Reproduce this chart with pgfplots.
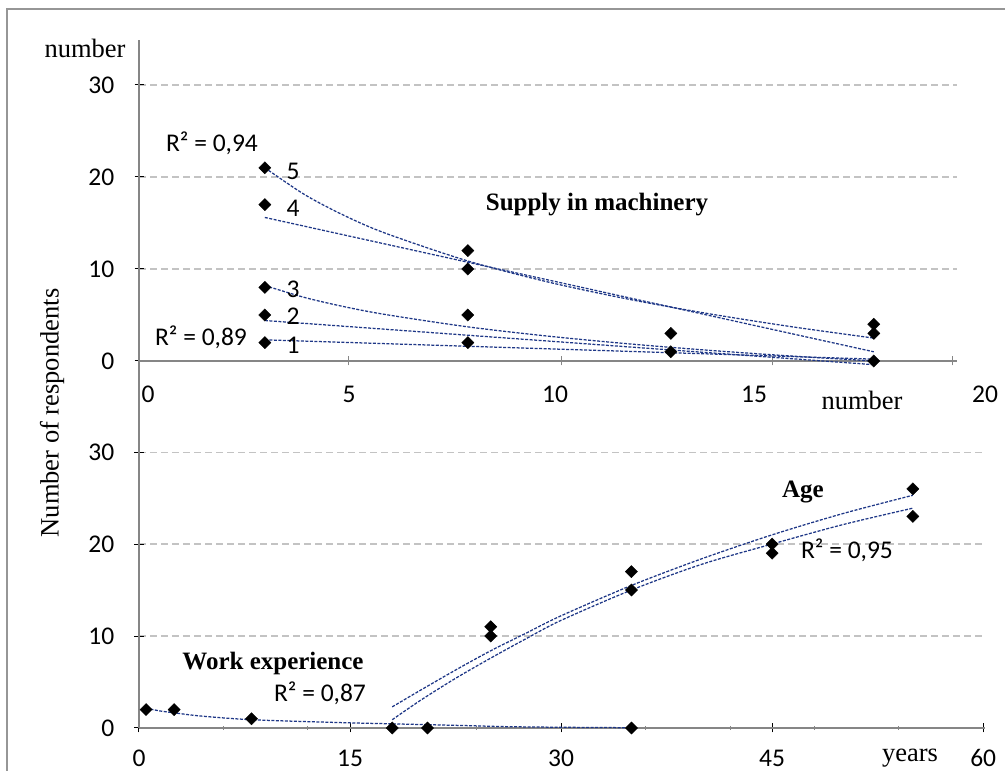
\documentclass[border=0pt]{standalone}
\usepackage{fontspec}
\setmainfont{Carlito}
\newfontfamily\timesf{Liberation Serif}
\usepackage{pgfplots}
\pgfplotsset{compat=1.18}
\definecolor{axgray}{RGB}{134,134,134}
\definecolor{gridgray}{RGB}{195,195,195}
\definecolor{trend}{RGB}{30,55,135}
\definecolor{framegray}{RGB}{150,150,150}
\pgfplotsset{
 mystyle/.style={
  scale only axis,
  axis lines=left,
  axis line style={draw=axgray, line width=1.6pt, -},
  tick align=center,
  major tick length=9pt,
  tick style={black, line width=1pt},
  ymajorgrids,
  grid style={gridgray, line width=1.1pt, dash pattern=on 7pt off 4pt},
  /pgf/number format/assume math mode=true,
  tick label style={font=\fontsize{25.5}{30}\selectfont},
  yticklabel style={inner sep=0pt, xshift=-20pt},
  ytick={0,10,20,30},
  clip=false,
 },
 pts/.style={only marks, mark=square*, mark size=4.3pt, mark options={rotate=45, fill=black, draw=black}, black},
 tl/.style={trend, line width=1.25pt, dash pattern=on 3pt off 1.5pt, no marks},
}
\newcommand\lab{\fontsize{25.5}{30}\selectfont}
\newcommand\tms{\timesf\fontsize{26.5}{30}\selectfont}
\newcommand\tmsb{\timesf\bfseries\fontsize{25}{30}\selectfont}
\begin{document}
\begin{tikzpicture}
\useasboundingbox (0pt,0pt) rectangle (1005pt,771pt);
\fill[white] (0pt,0pt) rectangle (1005pt,771pt);
\draw[framegray, line width=2pt] (7pt,0pt) -- (7pt,762pt) -- (1005pt,762pt);

% top: supply in machinery
\begin{axis}[mystyle, at={(139pt,410pt)}, anchor=south west,
  width=818pt, height=321pt,
  xmin=-0.1, xmax=20.05, ymin=0, ymax=34.89,
  xtick={5.07,10.31,15.5,19.94}, xticklabels={,,,},
  xtick style={axgray, line width=1pt}]
\addplot[tl, smooth] coordinates {(3,21)(4,18.03)(5,15.72)(6,13.84)(8,10.87)(10,8.56)(12,6.68)(14,5.09)(16,3.71)(18,2.49)};
\addplot[tl] coordinates {(3,15.6)(18,1.0)};
\addplot[tl, smooth] coordinates {(3,8.2)(4,6.88)(5,5.86)(6,5.03)(8,3.71)(10,2.69)(12,1.85)(14,1.14)(16,0.53)(18,0)};
\addplot[tl] coordinates {(3,4.4)(18,-0.4)};
\addplot[tl] coordinates {(3,2.3)(18,0.2)};
\addplot[pts] coordinates {(3,21)(3,17)(3,8)(3,5)(3,2)(8,12)(8,10)(8,5)(8,2)(13,3)(13,1)(18,4)(18,3)(18,0)};
\end{axis}

% bottom: age and work experience
\begin{axis}[mystyle, at={(139pt,43pt)}, anchor=south west,
  width=846pt, height=367pt,
  xmin=0, xmax=60.13, ymin=0, ymax=39.9,
  xtick={0,15,30,45,60},
  xticklabel style={inner sep=0pt, yshift=-17pt},
  minor xtick={6,12,18,24,36,42,48,54},
  minor tick length=4pt, minor tick style={axgray, line width=0.8pt}]
\addplot[tl, smooth] coordinates {(0.5,2.15)(1.5,1.85)(2.5,1.65)(4.4,1.3)(8,0.9)(14,0.6)(18,0.45)(23,0.27)(26,0.15)(30,0.08)(35,0.03)};
\addplot[tl, smooth] coordinates {(18,2.3)(20,4.1)(22.5,6.3)(25,8.4)(27.5,10.3)(30,12.2)(35,15.5)(40,18.4)(45,21.0)(50,23.3)(55,25.3)};
\addplot[tl, smooth] coordinates {(18,0.9)(20,3.0)(22.5,5.4)(25,7.6)(27.5,9.7)(30,11.7)(35,15.0)(40,17.8)(45,20.0)(50,22.1)(55,23.9)};
\addplot[pts] coordinates {(0.5,2)(2.5,2)(8,1)(18,0)(20.5,0)(35,0)(25,11)(25,10)(35,17)(35,15)(45,20)(45,19)(55,26)(55,23)};
\end{axis}

% texts
\node[font=\tms] at (85pt,723pt) {number};
\node[font=\lab] at (212pt,628pt) {R² = 0,94};
\node[font=\lab] at (293pt,600pt) {5};
\node[font=\lab] at (293pt,563pt) {4};
\node[font=\lab] at (293pt,482pt) {3};
\node[font=\lab] at (293pt,455pt) {2};
\node[font=\lab] at (293pt,426pt) {1};
\node[font=\lab] at (201pt,434pt) {R² = 0,89};
\node[font=\tmsb] at (597pt,566pt) {Supply in machinery};
\node[font=\lab] at (148pt,377pt) {0};
\node[font=\lab] at (349pt,377pt) {5};
\node[font=\lab] at (555pt,377pt) {10};
\node[font=\lab] at (754pt,377pt) {15};
\node[font=\lab] at (985pt,377pt) {20};
\node[font=\tms] at (862pt,371pt) {number};
\node[font=\tms, rotate=90] at (52pt,358pt) {Number of respondents};
\node[font=\tmsb] at (273pt,108pt) {Work experience};
\node[font=\lab] at (320pt,78pt) {R² = 0,87};
\node[font=\tmsb] at (803pt,279pt) {Age};
\node[font=\lab] at (847pt,221pt) {R² = 0,95};
\node[font=\tms] at (910pt,13pt) {years};
\end{tikzpicture}
\end{document}
